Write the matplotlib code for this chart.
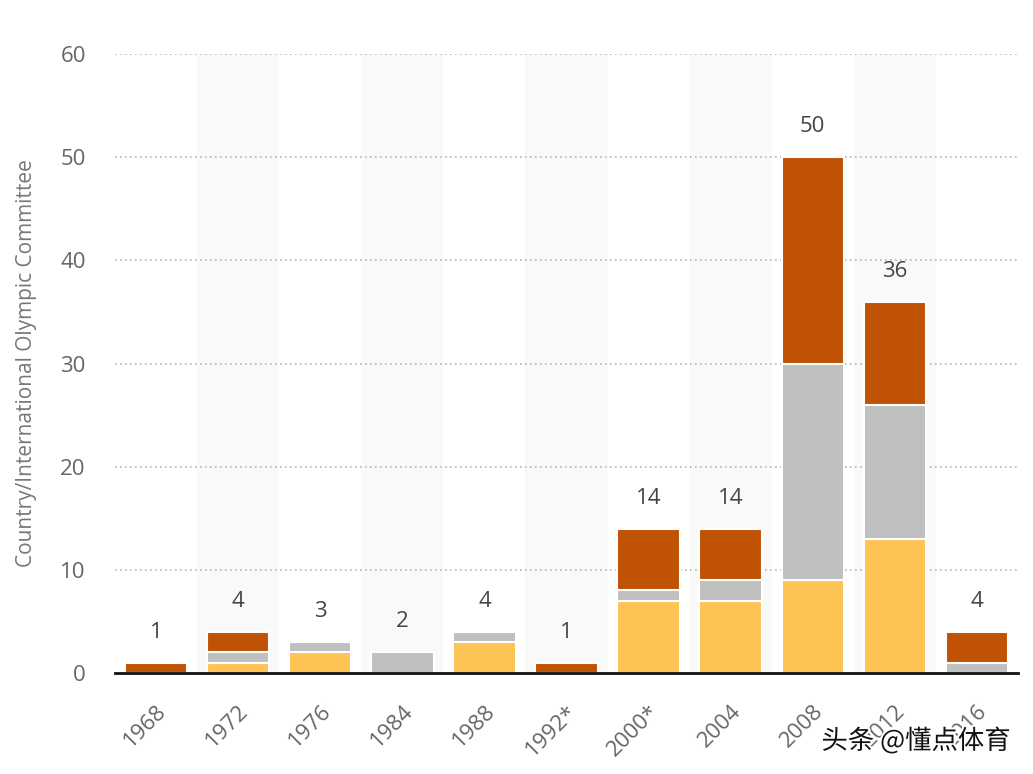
import matplotlib
matplotlib.use("Agg")
import matplotlib.pyplot as plt
import matplotlib.patheffects as pe
import numpy as np

years = ["1968", "1972", "1976", "1984", "1988", "1992*", "2000*", "2004", "2008", "2012", "2016"]
gold = [0, 1, 2, 0, 3, 0, 7, 7, 9, 13, 0]
silver = [0, 1, 1, 2, 1, 0, 1, 2, 21, 13, 1]
bronze = [1, 2, 0, 0, 0, 1, 6, 5, 20, 10, 3]
ylabel = "Country/International Olympic Committee"
yticks = [0, 10, 20, 30, 40, 50, 60]

plt.rcParams['font.family'] = ['Open Sans', 'DejaVu Sans']

fig = plt.figure(figsize=(10.33, 7.74), dpi=100)
ax = fig.add_axes([115/1033, 1 - 673/774, (1018 - 115)/1033, (673 - 54)/774])

x = np.arange(len(years))
g = np.array(gold); s = np.array(silver); b = np.array(bronze)
w = 0.76
for i in x:
    if i % 2 == 1:
        ax.axvspan(i - 0.5, i + 0.5, color="#f9f9f9", zorder=0, lw=0)

ax.bar(x, g, w, color="#fdc454", edgecolor="white", linewidth=1.5, zorder=3)
ax.bar(x, s, w, bottom=g, color="#bfbfbf", edgecolor="white", linewidth=1.5, zorder=3)
ax.bar(x, b, w, bottom=g + s, color="#c05203", edgecolor="white", linewidth=1.5, zorder=3)

tot = g + s + b
for i, t in zip(x, tot):
    ax.annotate(str(t), (i, t), xytext=(0, 22), textcoords="offset points",
                ha="center", va="center", fontsize=16, color="#444444", zorder=5)

ax.set_xlim(-0.5, len(years) - 0.5)
ax.set_ylim(0, 60)
ax.set_yticks(yticks)
ax.yaxis.grid(True, linestyle=(0, (1, 2)), color="#b5b5b5", linewidth=1.2, zorder=1)
ax.set_axisbelow(False)
for gl in ax.get_ygridlines():
    gl.set_zorder(1)
ax.set_xticks(x)
ax.set_xticklabels(years, rotation=45, ha="right", va="top", rotation_mode="anchor",
                   fontsize=16, color="#666666")
ax.tick_params(axis="x", length=0, pad=20)
ax.tick_params(axis="y", length=0, pad=21, labelsize=16, labelcolor="#666666")
for sp in ["left", "right", "top"]:
    ax.spines[sp].set_visible(False)
ax.spines["bottom"].set_color("#111111")
ax.spines["bottom"].set_linewidth(2)
ax.spines["bottom"].set_zorder(6)

fig.text(27/1033, 1 - 363/774, ylabel, rotation=90, ha="center", va="center",
         fontsize=15, color="#777777")

fig.text(916/1033, 1 - 741/774, "头条 @懂点体育", ha="center", va="center", fontsize=19,
         color="#111111", family=["Noto Sans CJK SC", "DejaVu Sans"],
         path_effects=[pe.withStroke(linewidth=3, foreground="white")], zorder=10)

fig.savefig("out.png", dpi=100)
